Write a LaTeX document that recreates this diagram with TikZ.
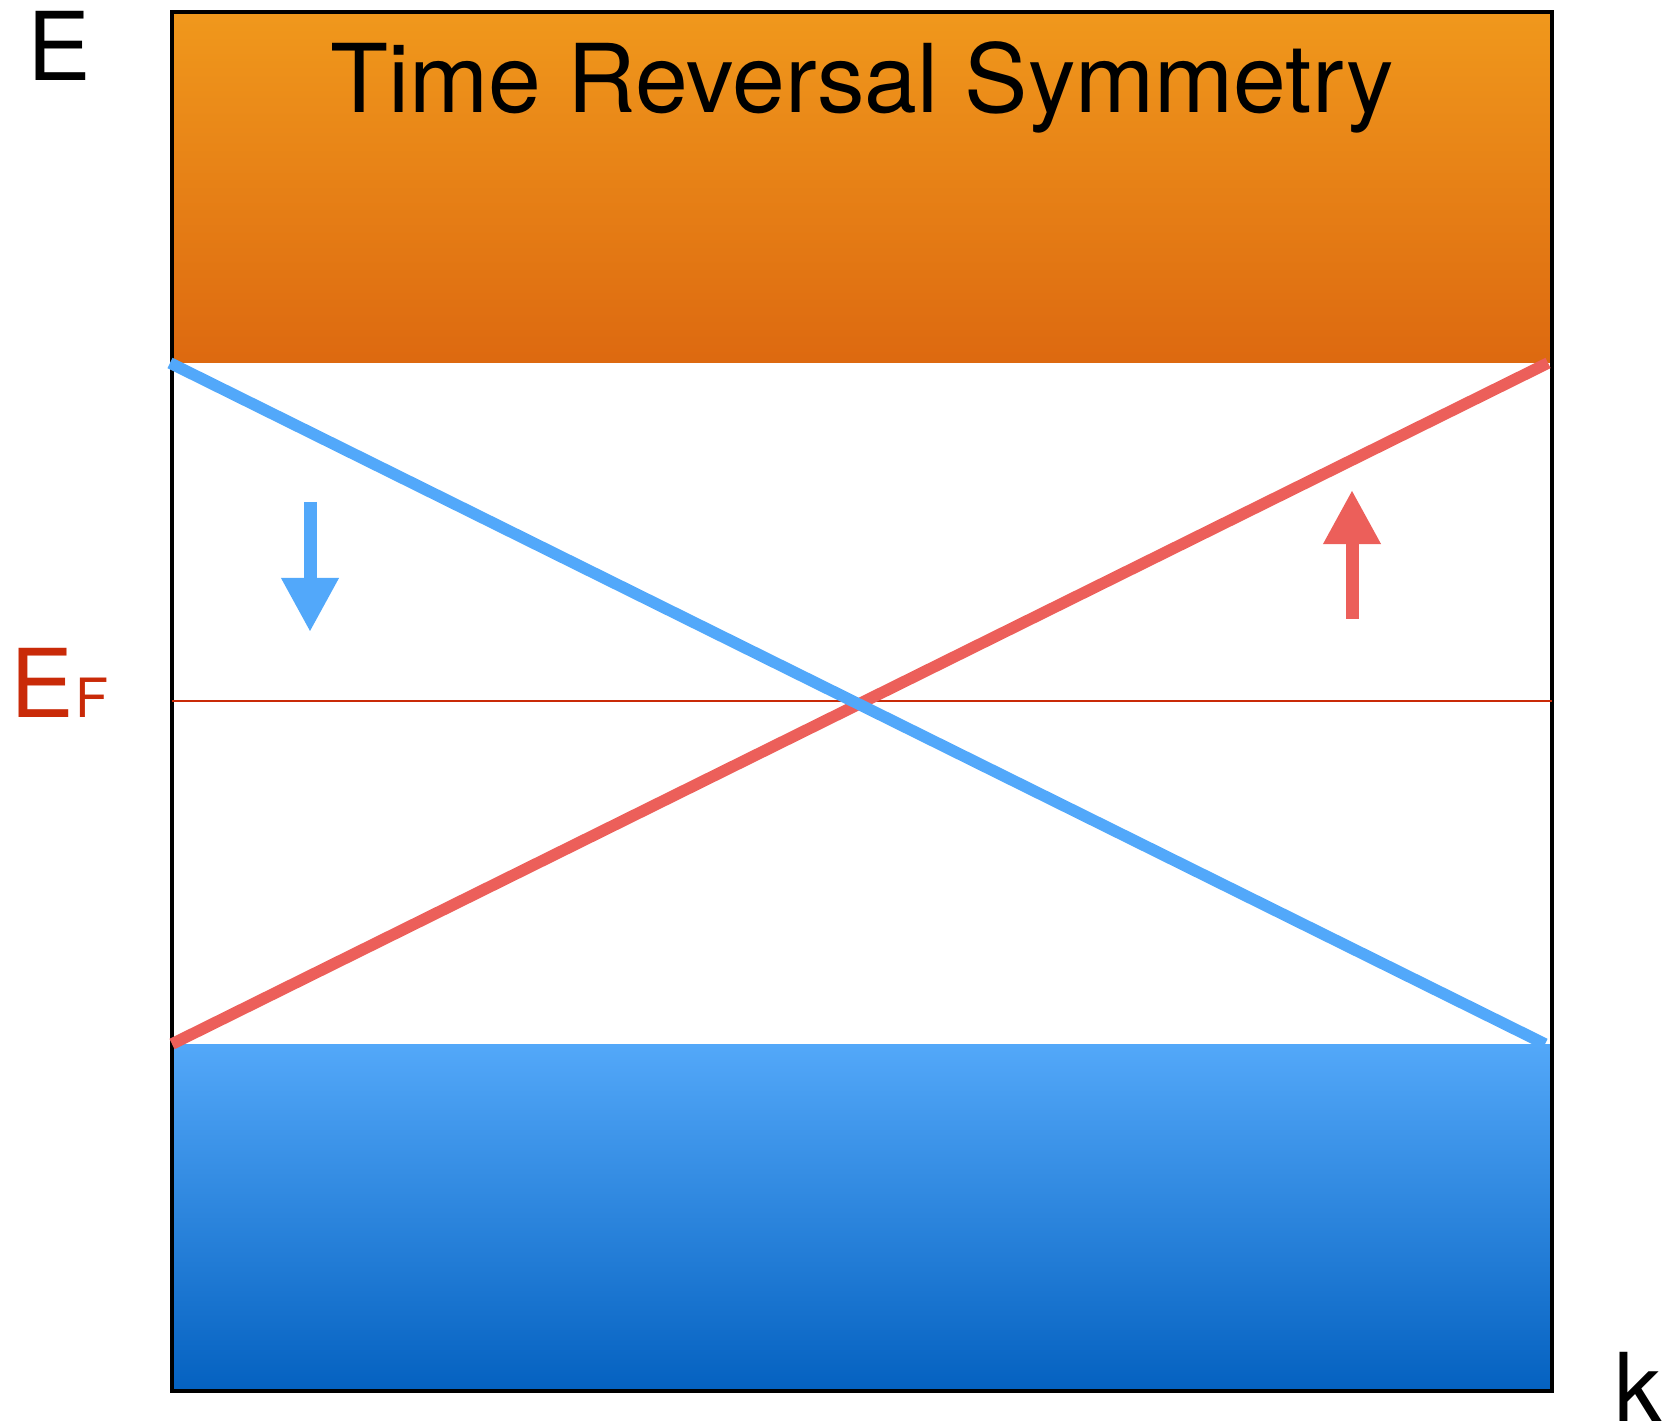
\documentclass[tikz,border=0pt]{standalone}
\usepackage{fontspec}
\setsansfont{TeX Gyre Heros}
\usetikzlibrary{arrows.meta}
\definecolor{orangeA}{HTML}{F0981C}
\definecolor{orangeB}{HTML}{DD6910}
\definecolor{blueA}{HTML}{53A8F9}
\definecolor{blueB}{HTML}{0461C0}
\definecolor{spinB}{HTML}{52A8FA}
\definecolor{spinR}{HTML}{EC5F5A}
\definecolor{fermiR}{HTML}{C92A08}

\begin{document}
\begin{tikzpicture}[
  x=0.01cm, y=-0.01cm,
  lbl/.style={
    font=\sffamily\fontsize{27}{30}\selectfont,
    inner sep=0pt, anchor=base west
  },
  edge/.style={line width=3.3pt, line cap=butt, #1},
  spinarr/.style={
    -{Triangle[length=0.54cm, width=0.54cm]},
    line width=0.13cm, #1
  }
]
\useasboundingbox (0,0) rectangle (1673,1425);

%% ═══ BANDS ═══
\coordinate (tl) at (172,12);
\coordinate (br) at (1552,1391);
\coordinate (cbL) at (172,363);
\coordinate (cbR) at (1552,363);
\coordinate (vbL) at (172,1044);
\coordinate (vbR) at (1552,1044);
\shade[top color=orangeA, bottom color=orangeB] (tl) rectangle (cbR);
\shade[top color=blueA, bottom color=blueB] (vbL) rectangle (br);
\draw[line width=1.13pt] (tl) rectangle (br);

%% ═══ FERMI LEVEL ═══
\coordinate (efL) at (172,701);
\coordinate (efR) at (1552,701);
\draw[fermiR, line width=0.7pt] (efL) -- (efR);

%% ═══ EDGE STATES ═══
\draw[edge=spinR] (vbL) -- ([xshift=-0.04cm]cbR);
\draw[edge=spinB] ([xshift=-0.02cm]cbL) -- ([xshift=-0.07cm]vbR);

%% ═══ SPIN ARROWS ═══
\coordinate (dnA) at (310,502);
\coordinate (dnB) at (310,632);
\coordinate (upA) at (1352,619);
\coordinate (upB) at (1352,490);
\draw[spinarr=spinB] (dnA) -- (dnB);
\draw[spinarr=spinR] (upA) -- (upB);

%% ═══ LABELS ═══
\node[lbl, anchor=base] (title) at (862,113) {Time Reversal Symmetry};
\node[lbl] (E) at (27,81) {E};
\node[lbl, text=fermiR] (EF) at (10,718)
  {E\kern0.01cm{\fontsize{15.4}{16}\selectfont F}};
\node[lbl] (k) at (1614,1421) {k};

\end{tikzpicture}
\end{document}
